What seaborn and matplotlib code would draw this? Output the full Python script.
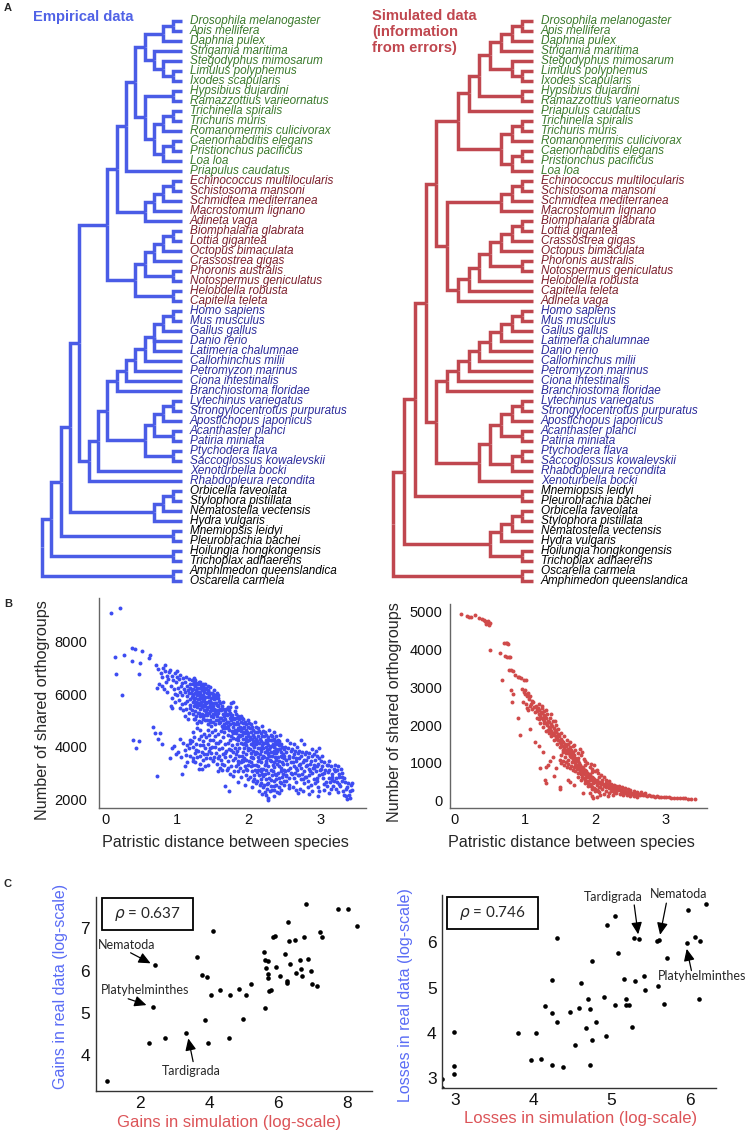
import matplotlib
matplotlib.use("Agg")
import matplotlib.pyplot as plt
import seaborn as sns
import pandas as pd
from matplotlib.collections import LineCollection
from matplotlib.patches import Rectangle

sns.set_theme(style="white")
plt.rcParams['font.family'] = ['Liberation Sans', 'DejaVu Sans']

W, H = 748, 1134

# ---------------- DATA ----------------
# Panel A trees (topology, first child drawn on top)
arth_L = ((("Drosophila melanogaster", "Apis mellifera"), "Daphnia pulex"),
          ("Strigamia maritima", ("Stegodyphus mimosarum", ("Limulus polyphemus", "Ixodes scapularis"))))
tard = ("Hypsibius dujardini", "Ramazzottius varieornatus")
nema = ((("Trichinella spiralis", "Trichuris muris"), "Romanomermis culicivorax"),
        (("Caenorhabditis elegans", "Pristionchus pacificus"), "Loa loa"))
ecdy_L = ((arth_L, (tard, nema)), "Priapulus caudatus")
platyzoa_L = (((("Echinococcus multilocularis", "Schistosoma mansoni"), "Schmidtea mediterranea"),
               "Macrostomum lignano"), "Adineta vaga")
lopho_L = ((((("Biomphalaria glabrata", "Lottia gigantea"), "Octopus bimaculata"), "Crassostrea gigas"),
            ("Phoronis australis", "Notospermus geniculatus")), ("Helobdella robusta", "Capitella teleta"))
chord_L = ((((((("Homo sapiens", "Mus musculus"), "Gallus gallus"), "Danio rerio", "Latimeria chalumnae"),
              "Callorhinchus milii"), "Petromyzon marinus"), "Ciona intestinalis"), "Branchiostoma floridae")
ambul_L = (((("Lytechinus variegatus", "Strongylocentrotus purpuratus"), "Apostichopus japonicus"),
            ("Acanthaster planci", "Patiria miniata")), ("Ptychodera flava", "Saccoglossus kowalevskii"))
deut_L = (((chord_L, ambul_L), "Xenoturbella bocki"), "Rhabdopleura recondita")
cnid_L = ((("Orbicella faveolata", "Stylophora pistillata"), "Nematostella vectensis"), "Hydra vulgaris")
tree_empirical = ((((((ecdy_L, platyzoa_L), lopho_L), deut_L), cnid_L),
                   ("Mnemiopsis leidyi", "Pleurobrachia bachei")),
                  ("Hoilungia hongkongensis", "Trichoplax adhaerens")), ("Amphimedon queenslandica", "Oscarella carmela")

arth_R = (((("Drosophila melanogaster", "Apis mellifera"), "Daphnia pulex"), "Strigamia maritima"),
          ("Stegodyphus mimosarum", ("Limulus polyphemus", "Ixodes scapularis")))
ecdy_R = (((arth_R, tard), "Priapulus caudatus"), nema)
platy_R = ((("Echinococcus multilocularis", "Schistosoma mansoni"), "Schmidtea mediterranea"), "Macrostomum lignano")
moll_R = ((("Biomphalaria glabrata", "Lottia gigantea"), "Crassostrea gigas"), "Octopus bimaculata")
spir_R = (platy_R, ((((moll_R, ("Phoronis australis", "Notospermus geniculatus")), "Helobdella robusta"),
                     "Capitella teleta"), "Adineta vaga"))
chord_R = (((((((("Homo sapiens", "Mus musculus"), "Gallus gallus"), "Latimeria chalumnae"), "Danio rerio"),
              "Callorhinchus milii"), "Petromyzon marinus"), "Ciona intestinalis"), "Branchiostoma floridae")
xenamb_R = (((((("Lytechinus variegatus", "Strongylocentrotus purpuratus"), "Apostichopus japonicus"),
              ("Acanthaster planci", "Patiria miniata")),
             (("Ptychodera flava", "Saccoglossus kowalevskii"), "Rhabdopleura recondita")), "Xenoturbella bocki"))
tree_simulated = (((((ecdy_R, spir_R), (chord_R, xenamb_R)), ("Mnemiopsis leidyi", "Pleurobrachia bachei")),
                   (((("Orbicella faveolata", "Stylophora pistillata"), "Nematostella vectensis"), "Hydra vulgaris"),
                    ("Hoilungia hongkongensis", "Trichoplax adhaerens"))),
                  ("Oscarella carmela", "Amphimedon queenslandica"))

green_group = ["Drosophila melanogaster", "Apis mellifera", "Daphnia pulex", "Strigamia maritima",
               "Stegodyphus mimosarum", "Limulus polyphemus", "Ixodes scapularis", "Hypsibius dujardini",
               "Ramazzottius varieornatus", "Trichinella spiralis", "Trichuris muris", "Romanomermis culicivorax",
               "Caenorhabditis elegans", "Pristionchus pacificus", "Loa loa", "Priapulus caudatus"]
red_group = ["Echinococcus multilocularis", "Schistosoma mansoni", "Schmidtea mediterranea", "Macrostomum lignano",
             "Adineta vaga", "Biomphalaria glabrata", "Lottia gigantea", "Octopus bimaculata", "Crassostrea gigas",
             "Phoronis australis", "Notospermus geniculatus", "Helobdella robusta", "Capitella teleta"]
blue_group = ["Homo sapiens", "Mus musculus", "Gallus gallus", "Danio rerio", "Latimeria chalumnae",
              "Callorhinchus milii", "Petromyzon marinus", "Ciona intestinalis", "Branchiostoma floridae",
              "Lytechinus variegatus", "Strongylocentrotus purpuratus", "Apostichopus japonicus",
              "Acanthaster planci", "Patiria miniata", "Ptychodera flava", "Saccoglossus kowalevskii",
              "Xenoturbella bocki", "Rhabdopleura recondita"]

# Panel B: (patristic distance, shared orthogroups)
emp_pts = [
 (0.09,9080),(0.21,9300),(0.14,7430),(0.27,7480),(0.37,7770),(0.42,7710),(0.51,7650),(0.63,7480),(0.62,7370),
 (0.37,7270),(0.49,7180),(0.15,6750),(0.48,6750),(0.23,5980),(0.71,7110),(0.84,7130),(0.81,6980),(0.67,4740),
 (0.70,4530),(0.77,4520),(0.74,4300),(0.39,4240),(0.47,4210),(0.43,3960),(0.73,2860),(0.80,4110),(0.93,3940),
 (0.91,3560),(1.07,2940),(0.94,5480),
 (0.74,6950),(0.78,6790),(0.80,6640),(0.83,6870),(0.86,6700),(0.88,6560),(0.75,6400),(0.72,6230),(0.79,6300),
 (0.85,6450),(0.89,6830),(0.82,6200),(0.87,6080),
 (0.91,6930),(0.93,6710),(0.95,6550),(0.97,6800),(0.99,6480),(0.92,6330),(0.96,6180),(0.98,6020),(0.94,5850),
 (1.00,6650),(0.97,5700),(0.92,5550),(0.96,4020),(0.99,3720),
 (1.01,6890),(1.03,6560),(1.05,6720),(1.07,6420),(1.09,6610),(1.02,6250),(1.04,6080),(1.06,6300),(1.08,5960),
 (1.10,6180),(1.03,5780),(1.07,5620),(1.09,5390),(1.05,5480),(1.01,5950),(1.02,3810),(1.06,3600),(1.09,4150),
 (1.04,4300),
 (1.11,6480),(1.13,6650),(1.15,6320),(1.17,6560),(1.19,6400),(1.12,6090),(1.14,5920),(1.16,6150),(1.18,5820),
 (1.20,6030),(1.11,5660),(1.13,5450),(1.15,5730),(1.17,5300),(1.19,5580),(1.16,5050),(1.12,5180),(1.19,6250),
 (1.12,3880),(1.15,4050),(1.18,3650),(1.14,3420),(1.19,4250),(1.11,3250),(1.17,3950),
 (1.21,6550),(1.22,6380),(1.23,6200),(1.24,6450),(1.25,6050),(1.26,6300),(1.27,6150),(1.28,5950),(1.29,6400),
 (1.30,6100),(1.21,5880),(1.22,5700),(1.23,5950),(1.24,5800),(1.25,5600),(1.26,5850),(1.27,5700),(1.28,5500),
 (1.29,5800),(1.30,5650),(1.21,5400),(1.23,5250),(1.25,5350),(1.27,5150),(1.29,5300),(1.22,6020),(1.26,6550),
 (1.28,6250),(1.24,5050),(1.28,4900),
 (1.21,4200),(1.23,3980),(1.25,3750),(1.27,4100),(1.29,3850),(1.22,3550),(1.26,3400),(1.28,3620),(1.24,4350),
 (1.31,6450),(1.32,6250),(1.33,6050),(1.34,6350),(1.35,6150),(1.36,5950),(1.37,6300),(1.38,6100),(1.39,5900),
 (1.40,6200),(1.31,5800),(1.32,5600),(1.33,5850),(1.34,5700),(1.35,5500),(1.36,5750),(1.37,5600),(1.38,5400),
 (1.39,5700),(1.40,5550),(1.31,5300),(1.33,5150),(1.35,5250),(1.37,5050),(1.39,5200),(1.32,5950),(1.36,6400),
 (1.38,5800),(1.34,4950),(1.40,5000),(1.33,6480),(1.37,5850),
 (1.31,4300),(1.33,4050),(1.35,3800),(1.37,4200),(1.39,3950),(1.32,3650),(1.36,3500),(1.38,3700),(1.34,4400),
 (1.40,3250),(1.31,3150),
 (1.41,6250),(1.42,6050),(1.43,5900),(1.44,6150),(1.45,5950),(1.46,5750),(1.47,6050),(1.48,5850),(1.49,5650),
 (1.50,5900),(1.41,5650),(1.42,5450),(1.43,5700),(1.44,5500),(1.45,5300),(1.46,5550),(1.47,5350),(1.48,5150),
 (1.49,5400),(1.50,5250),(1.42,5000),(1.44,4850),(1.46,5000),(1.48,4800),(1.50,4950),(1.43,6300),(1.47,5650),
 (1.41,4350),(1.43,4100),(1.45,3850),(1.47,4250),(1.49,4000),(1.42,3700),(1.46,3550),(1.48,3750),(1.44,3300),
 (1.50,3450),(1.45,4450),
 (1.51,6000),(1.52,5800),(1.54,5950),(1.55,5650),(1.57,5850),(1.58,5550),(1.59,5750),(1.52,5450),(1.53,5250),
 (1.55,5400),(1.56,5150),(1.58,5300),(1.60,5100),(1.51,5550),(1.57,5000),(1.54,4850),(1.59,4900),(1.53,5650),
 (1.56,6050),(1.60,5450),
 (1.51,4250),(1.53,4000),(1.55,3750),(1.57,4150),(1.59,3900),(1.52,3600),(1.56,3350),(1.58,3550),(1.54,4400),
 (1.60,3200),
 (1.61,5650),(1.62,5400),(1.63,5550),(1.64,5250),(1.65,5450),(1.66,5150),(1.67,5350),(1.68,5050),(1.69,5250),
 (1.70,4950),(1.61,4950),(1.63,4800),(1.65,5000),(1.67,4750),(1.69,4900),(1.62,4600),(1.66,4550),(1.68,4700),
 (1.64,5700),(1.70,5200),
 (1.61,4200),(1.63,3950),(1.65,3700),(1.67,4100),(1.69,3850),(1.62,3500),(1.66,3300),(1.68,3600),(1.64,4350),
 (1.70,3100),(1.67,2500),(1.63,3100),
 (1.71,5500),(1.72,5250),(1.73,5400),(1.74,5100),(1.75,5300),(1.76,5000),(1.77,5200),(1.78,4900),(1.79,5100),
 (1.80,4850),(1.71,4800),(1.73,4650),(1.75,4850),(1.77,4600),(1.79,4750),(1.72,4450),(1.76,4400),(1.78,4550),
 (1.74,5500),(1.80,5050),(1.79,5700),(1.76,5650),
 (1.71,4150),(1.73,3900),(1.75,3650),(1.77,4050),(1.79,3800),(1.72,3450),(1.76,3250),(1.78,3500),(1.74,4250),
 (1.80,3050),(1.75,2950),(1.73,2300),
 (1.81,5350),(1.82,5100),(1.83,5250),(1.84,4950),(1.85,5150),(1.86,4850),(1.87,5050),(1.88,4750),(1.89,4950),
 (1.90,4700),(1.81,4650),(1.83,4500),(1.85,4700),(1.87,4450),(1.89,4600),(1.82,4300),(1.86,4250),(1.88,4400),
 (1.84,4100),(1.90,4150),(1.87,3950),(1.83,5500),
 (1.81,3950),(1.83,3700),(1.85,3450),(1.87,3650),(1.89,3400),(1.82,3250),(1.86,3050),(1.88,3200),(1.84,3850),
 (1.90,2850),(1.85,2650),
 (1.91,5100),(1.92,4900),(1.93,5050),(1.94,4750),(1.95,4950),(1.96,4650),(1.97,4850),(1.98,4550),(1.99,4750),
 (2.00,4500),(1.91,4450),(1.93,4300),(1.95,4500),(1.97,4250),(1.99,4400),(1.92,4100),(1.96,4050),(1.98,4200),
 (1.94,3950),(2.00,3950),(1.93,3800),(1.97,3700),(1.99,5000),
 (1.91,3650),(1.93,3450),(1.95,3250),(1.97,3500),(1.99,3300),(1.92,3050),(1.96,2900),(1.98,3100),(1.94,3550),
 (2.00,2750),(1.95,2550),
 (2.01,4900),(2.02,4700),(2.03,4850),(2.04,4550),(2.05,4750),(2.06,4450),(2.07,4650),(2.08,4350),(2.09,4550),
 (2.10,4300),(2.01,4250),(2.03,4100),(2.05,4300),(2.07,4050),(2.09,4200),(2.02,3900),(2.06,3850),(2.08,4000),
 (2.04,3750),(2.10,3800),(2.03,3600),(2.07,3550),(2.09,4950),
 (2.01,3450),(2.03,3250),(2.05,3050),(2.07,3300),(2.09,3100),(2.02,2850),(2.06,2700),(2.08,2900),(2.04,3400),
 (2.10,2600),(2.05,2450),
 (2.11,4750),(2.12,4550),(2.13,4700),(2.14,4400),(2.15,4600),(2.16,4300),(2.17,4500),(2.18,4200),(2.19,4400),
 (2.20,4150),(2.11,4100),(2.13,3950),(2.15,4150),(2.17,3900),(2.19,4050),(2.12,3750),(2.16,3700),(2.18,3850),
 (2.14,3600),(2.20,3650),(2.13,3450),(2.17,3400),(2.19,4800),
 (2.11,3300),(2.13,3100),(2.15,2900),(2.17,3150),(2.19,2950),(2.12,2700),(2.16,2550),(2.18,2750),(2.14,3250),
 (2.20,2450),(2.15,2300),(2.18,3050),
 (2.21,4600),(2.22,4400),(2.23,4550),(2.24,4250),(2.25,4450),(2.26,4150),(2.27,4350),(2.28,4050),(2.29,4250),
 (2.30,4000),(2.21,3950),(2.23,3800),(2.25,4000),(2.27,3750),(2.29,3900),(2.22,3600),(2.26,3550),(2.28,3700),
 (2.24,3450),(2.30,3500),(2.23,3300),(2.27,3250),(2.29,4650),
 (2.21,3150),(2.23,2950),(2.25,2750),(2.27,3000),(2.29,2800),(2.22,2550),(2.26,2400),(2.28,2600),(2.24,3100),
 (2.30,2300),(2.25,2150),(2.28,1950),(2.23,2250),
 (2.31,4450),(2.32,4250),(2.33,4400),(2.34,4100),(2.35,4300),(2.36,4000),(2.37,4200),(2.38,3900),(2.39,4100),
 (2.40,3850),(2.31,3800),(2.33,3650),(2.35,3850),(2.37,3600),(2.39,3750),(2.32,3450),(2.36,3400),(2.38,3550),
 (2.34,3300),(2.40,3350),(2.35,4550),(2.38,4400),
 (2.31,3100),(2.33,2900),(2.35,2700),(2.37,2950),(2.39,2750),(2.32,2500),(2.36,2350),(2.38,2550),(2.34,3050),
 (2.40,2250),(2.36,2100),
 (2.41,4250),(2.42,4050),(2.43,4200),(2.44,3900),(2.45,4100),(2.46,3800),(2.47,4000),(2.48,3700),(2.49,3900),
 (2.50,3650),(2.41,3600),(2.43,3450),(2.45,3650),(2.47,3400),(2.49,3550),(2.42,3250),(2.46,3200),(2.48,3350),
 (2.44,4450),(2.50,3100),(2.41,3000),(2.43,2800),(2.45,2600),(2.47,2850),(2.49,2700),(2.42,2450),(2.46,2350),
 (2.48,2950),
 (2.51,4000),(2.53,3800),(2.55,3950),(2.57,3650),(2.59,3850),(2.52,3500),(2.54,3350),(2.56,3550),(2.58,3200),
 (2.60,3400),(2.51,3050),(2.53,2900),(2.55,3100),(2.57,2800),(2.59,3000),(2.52,2700),(2.56,2550),(2.58,4150),
 (2.54,4250),
 (2.61,3900),(2.63,3700),(2.65,3850),(2.67,3550),(2.69,3750),(2.62,3400),(2.64,3250),(2.66,3450),(2.68,3100),
 (2.70,3300),(2.61,2950),(2.63,2800),(2.65,3000),(2.67,2650),(2.69,2900),(2.62,2450),(2.66,2350),(2.68,4000),
 (2.64,4100),
 (2.71,3850),(2.73,3650),(2.75,3800),(2.77,3500),(2.79,3700),(2.72,3350),(2.74,3200),(2.76,3400),(2.78,3050),
 (2.80,3250),(2.71,2900),(2.73,2750),(2.75,2950),(2.77,2600),(2.79,2850),(2.72,2400),(2.76,2300),(2.78,4100),
 (2.74,4250),
 (2.81,3800),(2.83,3600),(2.85,3750),(2.87,3450),(2.89,3650),(2.82,3300),(2.84,3150),(2.86,3350),(2.88,3000),
 (2.90,3200),(2.81,2850),(2.83,2700),(2.85,2900),(2.87,2550),(2.89,2300),(2.84,2200),(2.88,3900),
 (2.91,3700),(2.93,3500),(2.95,3650),(2.97,3350),(2.99,3550),(2.92,3200),(2.94,3050),(2.96,3250),(2.98,2900),
 (3.00,3100),(2.91,2750),(2.93,2600),(2.95,2800),(2.97,2450),(2.99,2300),(2.94,3850),(2.98,3950),
 (3.01,3450),(3.03,3250),(3.05,3400),(3.07,3100),(3.09,3300),(3.02,2950),(3.04,2800),(3.06,3000),(3.08,2650),
 (3.10,2500),(3.05,2350),(3.02,3650),
 (3.11,3300),(3.13,3100),(3.15,3250),(3.17,2950),(3.19,3150),(3.12,2800),(3.14,2650),(3.16,2850),(3.18,2500),
 (3.20,2700),(3.15,2400),(3.12,3450),
 (3.21,3300),(3.23,3100),(3.25,3250),(3.27,2950),(3.29,3150),(3.22,2800),(3.24,2650),(3.26,2850),(3.28,2500),
 (3.30,2700),(3.25,2250),(3.22,2400),
 (3.31,3000),(3.33,2800),(3.35,2650),(3.37,2450),(3.39,2600),(3.32,2300),(3.36,2100),(3.38,2000),(3.41,2300),
 (3.43,2550),(3.45,2600),(3.44,2350),(3.40,2150),
 # extra, irregularly placed points filling the dense areas
 (1.17,6040),(1.21,6170),(1.24,6610),(1.27,6420),(1.31,6080),(1.34,5870),(1.36,6260),(1.39,6370),(1.43,6120),
 (1.46,6280),(1.49,6030),(1.52,6170),(1.55,5870),(1.58,5980),(1.19,5460),(1.24,5540),(1.29,5580),(1.33,5420),
 (1.38,5560),(1.41,5330),(1.45,5720),(1.48,5470),(1.53,5340),(1.56,5580),(1.59,5380),(1.26,5040),(1.31,4960),
 (1.36,5150),(1.42,5210),(1.47,4920),(1.51,5120),(1.55,5030),
 (1.62,5080),(1.66,4880),(1.69,5420),(1.72,4720),(1.76,5180),(1.79,4520),(1.82,4880),(1.86,4620),(1.89,5160),
 (1.93,4560),(1.96,4380),(1.64,4690),(1.71,4930),(1.78,4330),(1.85,4360),(1.92,4720),
 (1.95,4140),(1.99,3860),(2.02,4360),(2.06,4160),(2.09,3720),(2.12,4220),(2.16,3960),(2.19,3560),(2.22,4120),
 (2.26,3860),(2.29,3640),(2.32,4020),(2.36,3740),(2.39,3480),(2.43,3920),(2.47,3620),(2.05,3620),(2.15,3480),
 (2.25,3380),(2.35,3220),(2.45,3060),(2.33,4260),(2.41,4120),
 (1.13,3660),(1.18,4120),(1.23,3440),(1.27,3860),(1.32,3350),(1.36,4050),(1.41,3560),(1.46,3960),(1.51,3480),
 (1.55,4120),(1.59,3640),(1.63,3340),(1.67,3740),(1.72,3180),(1.76,3880),(1.81,3560),(1.86,3320),(1.91,3480),
 (1.96,3140),(1.35,3140),(1.58,3060),(1.78,2880),
 (2.08,2770),(2.12,3020),(2.17,2620),(2.21,2870),(2.26,2560),(2.31,2720),(2.35,2480),(2.39,2920),(2.44,2660),
 (2.49,2520),(2.53,2860),(2.19,2180),(2.27,2050),(2.33,2330),(2.43,2220),(2.56,2420),
 (2.62,3620),(2.66,3180),(2.71,3560),(2.76,2780),(2.81,3480),(2.86,3060),(2.91,3280),(2.96,2680),(3.01,3160),
 (3.06,2560),(3.11,3020),(3.16,2720),(3.21,3060),(3.26,2560),(3.31,2850),(3.36,2380),(2.69,2220),(2.83,2460),
 (2.97,2100),(3.12,2230),(3.34,2160),(3.42,2050),
 (1.22,4560),(1.28,4700),(1.33,4620),(1.38,4480),(1.44,4650),(1.49,4560),(1.54,4620),(1.58,4480),
]

sim_pts = [
 (0.10,4950),(0.18,4880),(0.21,4860),(0.24,4870),(0.30,4900),(0.36,4830),(0.39,4810),(0.42,4780),(0.44,4750),
 (0.45,4720),(0.47,4700),(0.49,4690),(0.51,4700),(0.48,4760),(0.46,4680),(0.50,4660),
 (0.51,4000),(0.65,3920),(0.71,4160),(0.73,4170),(0.75,4160),(0.77,4150),(0.72,3830),(0.75,3810),(0.78,3800),
 (0.79,3790),(0.78,3470),(0.81,3460),(0.83,3440),(0.68,3190),(0.87,3320),(0.90,3280),(0.92,3260),(0.95,3240),
 (0.99,3200),(1.02,3190),(0.81,2940),(0.82,2600),(0.83,2830),
 (0.97,2950),(0.99,2880),(1.00,2820),(1.01,2930),(1.03,2760),(1.05,2850),(1.06,2700),(1.08,2780),(1.10,2650),
 (0.98,2620),(1.02,2570),(1.04,2450),(1.07,2500),(1.09,2560),(1.11,2420),(1.12,2600),(1.13,2480),(1.15,2350),
 (0.91,2200),(0.94,1740),(1.08,1890),(1.05,2400),
 (1.16,2500),(1.17,2420),(1.18,2380),(1.19,2460),(1.20,2300),(1.21,2400),(1.22,2250),(1.23,2350),(1.24,2200),
 (1.25,2320),(1.26,2150),(1.27,2280),(1.28,2100),(1.29,2220),(1.30,2050),(1.31,2180),(1.32,2000),(1.33,2120),
 (1.34,1950),(1.35,2080),(1.36,1900),(1.37,2030),(1.38,1850),(1.39,1980),(1.40,1800),(1.41,1920),(1.42,1750),
 (1.43,1870),(1.44,1700),(1.45,1820),(1.46,1650),(1.47,1760),(1.48,1600),(1.49,1700),(1.50,1550),(1.51,1640),
 (1.52,1500),(1.53,1590),(1.54,1450),(1.55,1540),(1.56,1400),(1.57,1490),(1.58,1350),(1.59,1440),(1.60,1300),
 (1.18,2200),(1.22,2050),(1.26,1950),(1.30,1850),(1.34,1780),(1.38,1700),(1.42,1600),(1.46,1500),(1.50,1420),
 (1.54,1330),(1.58,1250),(1.20,2550),(1.24,2450),(1.28,2380),(1.32,2300),(1.36,2200),(1.40,2100),(1.44,2000),
 (1.48,1900),(1.52,1800),(1.56,1700),(1.60,1600),(1.62,1500),(1.64,1420),(1.66,1350),(1.68,1290),(1.70,1220),
 (1.61,1380),(1.62,1250),(1.63,1330),(1.64,1200),(1.65,1280),(1.66,1150),(1.67,1230),(1.68,1100),(1.69,1180),
 (1.70,1050),(1.71,1130),(1.72,1000),(1.73,1080),(1.74,950),(1.75,1040),(1.76,900),(1.77,990),(1.78,860),
 (1.79,950),(1.80,820),(1.81,900),(1.82,780),(1.83,860),(1.84,740),(1.85,820),(1.86,700),(1.87,780),(1.88,670),
 (1.89,740),(1.90,640),(1.91,700),(1.92,610),(1.93,670),(1.94,580),(1.95,640),(1.96,550),(1.97,610),(1.98,520),
 (1.99,580),(2.00,500),(2.02,540),(2.04,470),(2.06,500),(2.08,430),(2.10,460),(2.12,400),(2.14,430),(2.16,370),
 (2.18,400),(2.20,340),
 (1.64,1550),(1.68,1450),(1.72,1350),(1.76,1250),(1.80,1200),(1.84,1100),(1.88,1000),(1.92,900),(1.96,850),
 (2.00,780),(2.04,720),(2.08,680),(2.12,620),(2.16,560),(2.20,520),(1.70,1480),(1.78,1380),(1.82,1300),
 (1.86,1050),(1.94,960),(1.98,940),(2.02,800),
 (1.50,1080),(1.52,1000),(1.54,1060),(1.56,950),(1.58,1020),(1.60,900),(1.62,970),(1.64,860),(1.66,920),
 (1.68,820),(1.70,880),(1.72,780),(1.74,840),(1.76,740),(1.78,790),(1.80,700),(1.82,640),(1.84,600),(1.86,560),
 (1.88,520),(1.90,480),(1.92,440),(1.94,400),(1.96,360),(1.98,330),(2.00,300),(2.02,280),(2.04,260),(1.75,640),
 (1.80,560),(1.85,480),(1.90,400),(1.95,320),(2.00,250),(2.05,220),(1.92,200),(1.95,120),(1.97,60),
 (1.15,1560),(1.20,1450),(1.26,1300),(1.33,940),(1.30,900),(1.22,860),(1.41,650),(1.29,550),(1.30,480),
 (1.50,370),(1.50,300),(1.61,540),(1.65,500),(1.70,420),(1.83,200),(1.40,1150),(1.36,1050),(1.45,870),
 (2.22,380),(2.24,320),(2.26,350),(2.28,290),(2.30,320),(2.32,270),(2.34,300),(2.36,250),(2.38,280),(2.40,230),
 (2.42,260),(2.44,210),(2.46,240),(2.48,200),(2.50,220),(2.52,180),(2.54,200),(2.56,170),(2.58,190),(2.60,160),
 (2.62,175),(2.64,150),(2.66,165),(2.68,140),(2.70,155),(2.73,130),(2.76,140),(2.79,120),(2.82,125),(2.85,110),
 (2.88,115),(2.91,100),(2.94,105),(2.97,90),(3.00,95),(3.04,85),(3.08,80),(3.12,75),(3.16,70),(3.20,65),
 (3.24,60),(3.28,60),(3.32,55),(3.36,50),(3.42,50),
 (2.22,450),(2.26,420),(2.30,400),(2.34,380),(2.38,350),(2.42,330),(2.46,300),(2.50,290),(2.55,260),(2.60,240),
 (2.65,220),(2.70,200),(2.22,250),(2.26,220),(2.30,200),(2.35,180),(2.40,160),(2.45,150),(2.50,130),(2.55,120),
 (2.60,110),(2.25,150),(2.20,200),(2.15,250),(2.10,300),(2.05,350),(2.12,180),(2.18,130),(2.07,150),(2.02,100),
 # extra points between the main curve and the lower band
 (1.52,1220),(1.57,1150),(1.62,1090),(1.67,1020),(1.72,930),(1.77,860),(1.82,700),(1.87,640),(1.92,560),
 (1.97,480),(2.02,420),(2.07,370),(1.55,1290),(1.65,1180),(1.75,1120),(1.85,950),(1.95,750),(2.05,640),
 (2.10,560),(2.15,480),(2.20,440),(2.25,400),(2.30,350),(1.21,2160),(1.27,2060),(1.33,1880),(1.39,1790),
 (1.45,1640),(1.25,2510),(1.31,2400),(1.37,2290),(1.43,2120),
]

# Panel C: (simulation, real) log-scale
gains_pts = [
 (1.06,3.37),(2.27,4.27),(2.74,4.41),(3.34,4.53),(2.37,5.14),(2.45,6.12),(3.64,6.33),(4.13,6.94),(3.80,5.89),
 (3.94,5.85),(3.88,4.83),(3.97,4.29),(4.05,5.41),(4.33,5.53),(4.61,5.41),(4.59,4.41),(4.88,5.57),(4.97,4.84),
 (5.08,5.41),(5.21,5.67),(5.63,5.12),(5.60,6.45),(5.63,6.24),(5.70,6.23),(5.65,6.05),(5.70,5.92),(5.72,5.82),
 (5.75,5.51),(5.79,5.54),(5.86,6.79),(5.92,6.82),(5.95,6.09),(6.05,5.88),(6.20,6.39),(6.25,5.75),(6.27,5.70),
 (6.30,7.16),(6.32,6.71),(6.34,6.15),(6.49,6.72),(6.51,5.95),(6.62,6.26),(6.66,6.04),(6.68,5.87),(6.75,6.80),
 (6.81,7.57),(6.88,6.27),(6.96,6.00),(6.99,5.69),(7.12,5.64),(7.22,6.92),(7.26,6.80),(7.72,7.46),(8.01,7.46),
 (8.27,7.06),
]
losses_pts = [
 (2.84,2.79),(2.84,2.99),(2.99,4.03),(2.99,3.26),(2.99,3.09),(3.80,3.99),(3.97,3.40),(4.04,3.99),(4.10,3.43),
 (4.15,4.59),(4.24,5.17),(4.24,4.44),(4.24,3.29),(4.31,6.10),(4.31,4.25),(4.38,3.25),(4.47,4.46),(4.54,3.73),
 (4.59,4.55),(4.61,5.11),(4.68,4.11),(4.70,4.75),(4.73,4.53),(4.73,3.29),(4.75,5.60),(4.75,3.84),(4.80,4.25),
 (4.90,4.79),(4.93,3.93),(4.94,6.38),(5.04,4.62),(5.05,6.58),(5.08,5.76),(5.16,5.20),(5.18,4.74),(5.18,4.61),
 (5.22,4.61),(5.26,4.14),(5.29,6.10),(5.30,5.15),(5.35,6.08),(5.41,5.26),(5.43,4.95),(5.58,6.04),(5.59,5.03),
 (5.60,6.06),(5.67,4.64),(5.71,5.66),(5.96,5.98),(5.98,6.71),(6.07,6.13),(6.12,4.75),(6.13,6.03),(6.20,6.84),
]
gains_rho = 0.637
losses_rho = 0.746
# annotations: label, text position, arrow tail, arrow head
gains_notes = [("Nematoda", (1.61, 6.61), (1.73, 6.42), (2.31, 6.17)),
               ("Platyhelminthes", (2.14, 5.54), (1.66, 5.33), (2.19, 5.18)),
               ("Tardigrada", (3.48, 3.62), (3.54, 3.84), (3.40, 4.39))]
losses_notes = [("Tardigrada", (5.02, 7.00), (5.29, 6.83), (5.34, 6.18)),
                ("Nematoda", (5.86, 7.08), (5.70, 6.87), (5.62, 6.17)),
                ("Platyhelminthes", (6.16, 5.25), (6.02, 5.38), (5.96, 5.86))]

# ---------------- STYLE ----------------
BLUE_TREE = "#4a5ce6"
RED_TREE = "#c0474f"
LAB_GREEN = "#3b7a2c"
LAB_RED = "#7c1f2c"
LAB_BLUE = "#2c2c9c"
DOT_BLUE = "#3d4cf2"
DOT_RED = "#d04a4a"

fig = plt.figure(figsize=(W / 100, H / 100), dpi=100)


def fax(l, t, r, b):
    return fig.add_axes([l / W, 1 - b / H, (r - l) / W, (b - t) / H])


def layout(tree):
    leaves, segs = [], []

    def rec(node):
        if isinstance(node, str):
            leaves.append(node)
            return 0, len(leaves) - 1
        kids = [rec(c) for c in node]
        h = max(k[0] for k in kids) + 1
        y = (kids[0][1] + kids[-1][1]) / 2
        for kh, ky in kids:
            segs.append([(h, y), (h, ky), (kh, ky)])
        return h, y

    rec(tree)
    return leaves, segs


def leaf_color(name):
    if name in green_group:
        return LAB_GREEN
    if name in red_group:
        return LAB_RED
    if name in blue_group:
        return LAB_BLUE
    return "black"


def draw_tree(tree, left_px, right_px, root_px, tip_px, color):
    leaves, segs = layout(tree)
    nlev = max(p[0] for s in segs for p in s)
    step = (tip_px - root_px) / nlev
    ax = fax(left_px, 10, right_px, 590)
    row0, rowstep = 21, 10
    ax.set_xlim(nlev + (root_px - left_px) / step, -(right_px - tip_px) / step)
    ax.set_ylim((590 - row0) / rowstep, (10 - row0) / rowstep)
    ax.add_collection(LineCollection(segs, colors=color, linewidths=2.5,
                                     joinstyle="miter", capstyle="butt"))
    for i, name in enumerate(leaves):
        ax.text(-8 / step, i, name, fontsize=8.5, style="italic", color=leaf_color(name),
                va="center", ha="left")
    ax.axis("off")
    return ax


draw_tree(tree_empirical, 30, 372, 42, 182, BLUE_TREE)
draw_tree(tree_simulated, 372, 748, 393.3, 533, RED_TREE)

fig.text(33 / W, 1 - 17 / H, "Empirical data", fontsize=10.6, fontweight="bold", color="#5062e6",
         va="center", ha="left")
fig.text(372 / W, 1 - 9 / H, "Simulated data\n(information\nfrom errors)", fontsize=10.6,
         fontweight="bold", color=RED_TREE, va="top", ha="left", linespacing=1.2)
for lab, (px, py) in {"A": (8, 8), "B": (8, 604), "C": (8, 884)}.items():
    fig.text(px / W, 1 - py / H, lab, fontsize=8, fontweight="bold", va="center", ha="center")


def style_axes(ax, spine_col, tick_size, xpad, ypad):
    sns.despine(ax=ax)
    for s in ("left", "bottom"):
        ax.spines[s].set_color(spine_col)
        ax.spines[s].set_linewidth(1.0)
    ax.tick_params(axis="both", length=0, labelsize=tick_size, colors="#111111")
    ax.tick_params(axis="x", pad=xpad)
    ax.tick_params(axis="y", pad=ypad)
    ax.set_xlabel("")
    ax.set_ylabel("")
    ax.grid(False)


# ---------------- Panel B ----------------
emp_df = pd.DataFrame(emp_pts, columns=["distance", "shared"])
sim_df = pd.DataFrame(sim_pts, columns=["distance", "shared"])

axb1 = fax(99.3, 598, 366, 808)
sns.scatterplot(data=emp_df, x="distance", y="shared", ax=axb1, s=8, color=DOT_BLUE, linewidth=0)
axb1.set_xlim(-0.08, 3.64)
axb1.set_ylim(1657, 9668)
axb1.set_xticks([0, 1, 2, 3])
axb1.set_yticks([2000, 4000, 6000, 8000])
style_axes(axb1, "#666666", 10.5, 3.5, 8.5)

axb2 = fax(450, 604, 707, 808)
sns.scatterplot(data=sim_df, x="distance", y="shared", ax=axb2, s=8, color=DOT_RED, linewidth=0)
axb2.set_xlim(-0.057, 3.585)
axb2.set_ylim(-193, 5204)
axb2.set_xticks([0, 1, 2, 3])
axb2.set_yticks([0, 1000, 2000, 3000, 4000, 5000])
style_axes(axb2, "#666666", 10.5, 3.5, 5.5)

fs_lab = 11.6
fig.text(225 / W, 1 - 843 / H, "Patristic distance between species", fontsize=fs_lab, ha="center", va="center")
fig.text(43 / W, 1 - 710 / H, "Number of shared orthogroups", fontsize=fs_lab, rotation=90, ha="center", va="center")
fig.text(571 / W, 1 - 842 / H, "Patristic distance between species", fontsize=fs_lab, ha="center", va="center")
fig.text(395 / W, 1 - 712 / H, "Number of shared orthogroups", fontsize=fs_lab, rotation=90, ha="center", va="center")

# ---------------- Panel C ----------------
gains_df = pd.DataFrame(gains_pts, columns=["sim", "real"])
losses_df = pd.DataFrame(losses_pts, columns=["sim", "real"])

NOTE_FONT = ["Lato", "DejaVu Sans"]


def panel_c(ax, df, rho, notes, xlim, ylim, xticks, yticks, box):
    sns.scatterplot(data=df, x="sim", y="real", ax=ax, s=11, color="black", linewidth=0)
    ax.set_xlim(*xlim)
    ax.set_ylim(*ylim)
    ax.set_xticks(xticks)
    ax.set_yticks(yticks)
    style_axes(ax, "#333333", 12.5, 4, 4)
    x0, x1, y0, y1 = box
    ax.add_patch(Rectangle((x0, y0), x1 - x0, y1 - y0, transform=ax.transAxes, fill=False,
                           edgecolor="black", linewidth=1.3, clip_on=False))
    ax.text((x0 + x1) / 2, (y0 + y1) / 2, r"$\rho$ = %.3f" % rho, transform=ax.transAxes,
            ha="center", va="center", fontsize=11, family=NOTE_FONT)
    for lab, tpos, tail, head in notes:
        ax.text(tpos[0], tpos[1], lab, ha="center", va="center", fontsize=9, family=NOTE_FONT,
                clip_on=False)
        ax.annotate("", xy=head, xytext=tail,
                    arrowprops=dict(arrowstyle="-|>,head_length=0.55,head_width=0.25", color="black",
                                    lw=0.9, mutation_scale=13, shrinkA=0, shrinkB=0))


axc1 = fax(95.7, 896.7, 371.7, 1090.7)
panel_c(axc1, gains_df, gains_rho, gains_notes, (0.72, 8.71), (3.15, 7.75), [2, 4, 6, 8], [4, 5, 6, 7],
        (0.022, 0.351, 0.828, 0.995))
axc2 = fax(442.3, 895, 715.7, 1087.7)
panel_c(axc2, losses_df, losses_rho, losses_notes, (2.84, 6.33), (2.79, 7.05), [3, 4, 5, 6], [3, 4, 5, 6],
        (0.016, 0.350, 0.822, 0.991))

C_BLUE = "#5a6cf5"
C_RED = "#dc5458"
fig.text(229 / W, 1 - 1122 / H, "Gains in simulation (log-scale)", fontsize=12, color=C_RED, ha="center", va="center")
fig.text(60 / W, 1 - 986 / H, "Gains in real data (log-scale)", fontsize=11.5, color=C_BLUE, rotation=90,
         ha="center", va="center")
fig.text(581 / W, 1 - 1119 / H, "Losses in simulation (log-scale)", fontsize=12, color=C_RED, ha="center", va="center")
fig.text(406 / W, 1 - 995 / H, "Losses in real data (log-scale)", fontsize=11.5, color=C_BLUE, rotation=90,
         ha="center", va="center")

fig.savefig("out.png", dpi=100)
